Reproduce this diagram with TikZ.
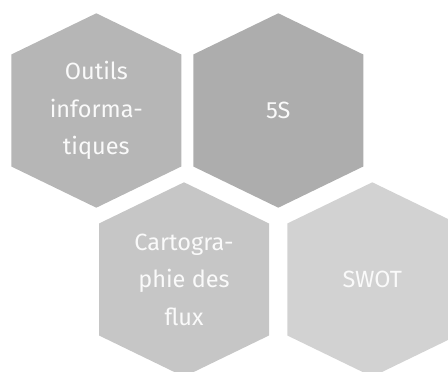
\documentclass[tikz,border=0pt]{standalone}
\usepackage{fontspec}
\setmainfont{Fira Sans}
\usetikzlibrary{calc}
\definecolor{hexA}{HTML}{B6B6B6}
\definecolor{hexB}{HTML}{ADADAD}
\definecolor{hexC}{HTML}{C6C6C6}
\definecolor{hexD}{HTML}{D2D2D2}
\definecolor{lbltext}{HTML}{FAFAFA}
\tikzset{
  lbl/.style={text=lbltext, align=center, inner sep=0pt, font=\fontsize{23.5pt}{37.5pt}\selectfont},
}
\newcommand\hexfill[2]{%
  \fill[#2] (#1) ++(0pt,97.2pt) -- ++(85pt,-41.2pt) -- ++(0pt,-112pt) -- ++(-85pt,-41.2pt) -- ++(-85pt,41.2pt) -- ++(0pt,112pt) -- cycle;}
\begin{document}
\begin{tikzpicture}[x=1pt,y=1pt]
\useasboundingbox (0,0) rectangle (448,372);
\clip (0,0) rectangle (448,372);
\coordinate (ca) at (96.3,261.5);
\coordinate (cb) at (278.3,261.5);
\coordinate (cc) at (184,92.5);
\coordinate (cd) at (372.3,92.5);
\hexfill{ca}{hexA}
\hexfill{cb}{hexB}
\hexfill{cc}{hexC}
\hexfill{cd}{hexD}
\node[lbl] (outils) at (ca) {Outils\\informa-\\tiques};
\node[lbl] (cinqs) at (cb) {5S};
\node[lbl] (carto) at (cc) {Cartogra-\\phie des\\flux};
\node[lbl] (swot) at (cd) {SWOT};
\end{tikzpicture}
\end{document}
